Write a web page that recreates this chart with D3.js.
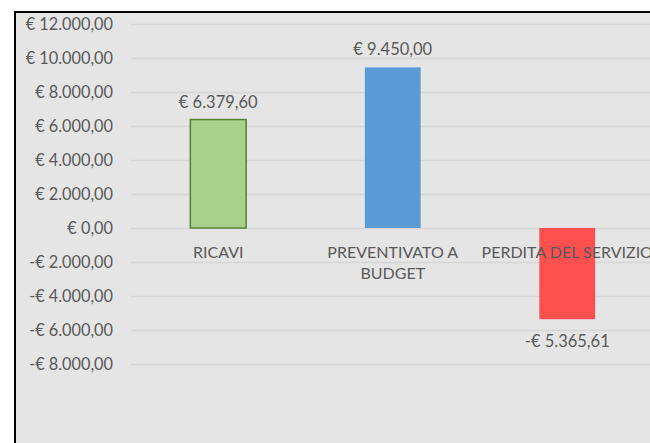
<!DOCTYPE html>
<html>
<head>
<meta charset="utf-8">
<script src="https://cdn.jsdelivr.net/npm/d3@7"></script>
<style>
  html, body { margin: 0; padding: 0; background: #ffffff; }
  svg { display: block; }
  text { font-family: Lato, "Open Sans", sans-serif; fill: #595959; }
</style>
</head>
<body>
<svg id="chart" width="650" height="443"></svg>
<script>
// Voci del conto
const categories = ["RICAVI", "PREVENTIVATO A BUDGET", "PERDITA DEL SERVIZIO"];
const categoryLines = [["RICAVI"], ["PREVENTIVATO A", "BUDGET"], ["PERDITA DEL SERVIZIO"]];
const values = [6379.60, 9450.00, -5365.61];
const valueLabels = ["€ 6.379,60", "€ 9.450,00", "-€ 5.365,61"];
const tickValues = [12000, 10000, 8000, 6000, 4000, 2000, 0, -2000, -4000, -6000, -8000];
const tickLabels = ["€ 12.000,00", "€ 10.000,00", "€ 8.000,00", "€ 6.000,00", "€ 4.000,00",
  "€ 2.000,00", "€ 0,00", "-€ 2.000,00", "-€ 4.000,00", "-€ 6.000,00", "-€ 8.000,00"];
const barFill = ["#a9d18e", "#5b9bd5", "#ff5050"];
const barStroke = ["#548235", "none", "none"];

const svg = d3.select("#chart");

// Chart area frame
svg.append("rect")
  .attr("x", 15).attr("y", 12)
  .attr("width", 700).attr("height", 500)
  .attr("fill", "#e5e5e5")
  .attr("stroke", "#000").attr("stroke-width", 2);

const y = d3.scaleLinear().domain([-8000, 12000]).range([364, 24]);
const x = d3.scaleBand().domain(categories).range([131, 654.5]).padding(0);
const barW = x.bandwidth() * 0.32;

// Gridlines
svg.append("g").selectAll("line")
  .data(tickValues)
  .join("line")
  .attr("x1", 131).attr("x2", 650)
  .attr("y1", d => Math.round(y(d)) + 0.5)
  .attr("y2", d => Math.round(y(d)) + 0.5)
  .attr("stroke", "#d6d6d6").attr("stroke-width", 1.5);

// Value axis labels
const axis = d3.axisLeft(y).tickValues(tickValues)
  .tickFormat((d, i) => tickLabels[i]).tickSize(0).tickPadding(0);
const gAxis = svg.append("g").attr("transform", "translate(113,0)").call(axis);
gAxis.select(".domain").remove();
gAxis.selectAll("text")
  .attr("font-family", "Lato, 'Open Sans', sans-serif")
  .attr("font-size", 16.3).attr("fill", "#595959");

// Bars
svg.append("g").selectAll("rect")
  .data(values)
  .join("rect")
  .attr("x", (d, i) => x(categories[i]) + (x.bandwidth() - barW) / 2)
  .attr("y", d => y(Math.max(0, d)))
  .attr("width", barW)
  .attr("height", d => Math.abs(y(d) - y(0)))
  .attr("fill", (d, i) => barFill[i])
  .attr("stroke", (d, i) => barStroke[i])
  .attr("stroke-width", 1.5);

// Category labels
const cat = svg.append("g").selectAll("text")
  .data(categoryLines)
  .join("text")
  .attr("text-anchor", "middle")
  .attr("font-size", 16)
  .attr("x", (d, i) => x(categories[i]) + x.bandwidth() / 2)
  .attr("y", 258);
cat.selectAll("tspan")
  .data(d => d)
  .join("tspan")
  .attr("x", function () { return d3.select(this.parentNode).attr("x"); })
  .attr("dy", (d, i) => i === 0 ? 0 : 21)
  .text(d => d);

// Value labels
svg.append("g").selectAll("text")
  .data(values)
  .join("text")
  .attr("text-anchor", "middle")
  .attr("font-size", 16.5)
  .attr("x", (d, i) => x(categories[i]) + x.bandwidth() / 2)
  .attr("y", d => d >= 0 ? y(d) - 12 : y(d) + 28)
  .text((d, i) => valueLabels[i]);
</script>
</body>
</html>
